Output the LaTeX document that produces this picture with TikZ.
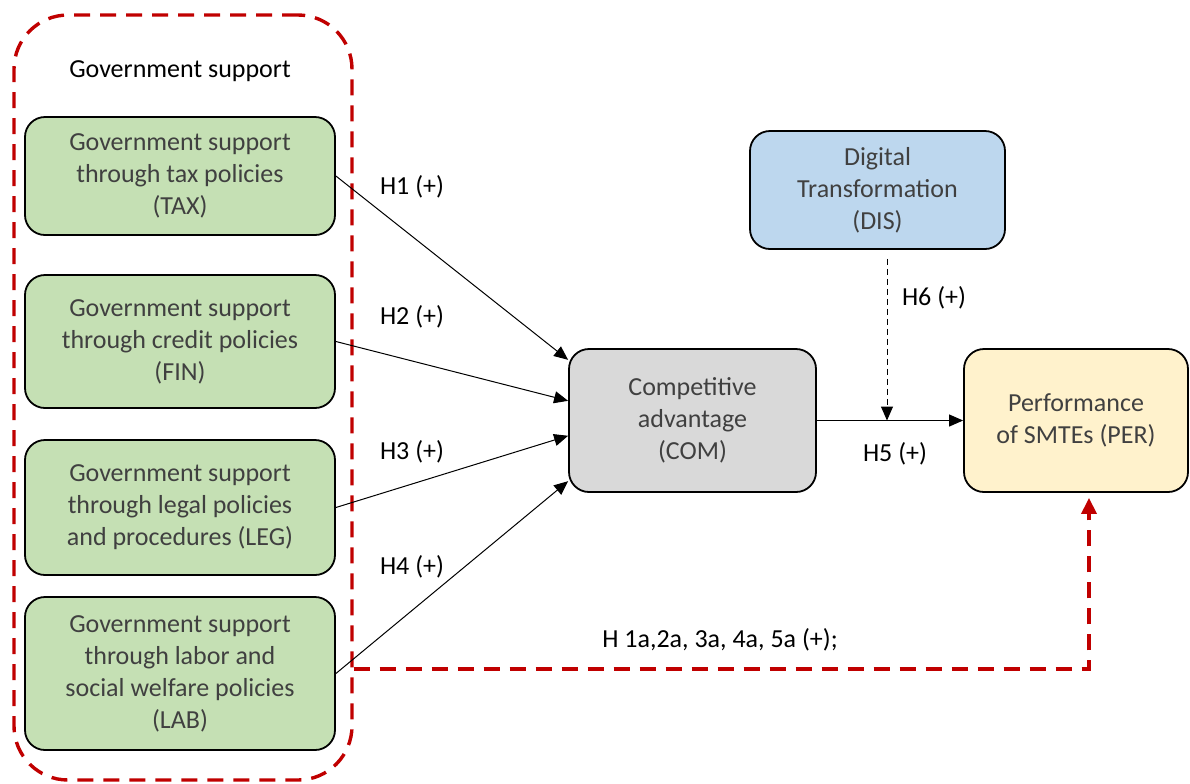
\documentclass[tikz,border=0pt]{standalone}
\usepackage{fontspec}
\setmainfont{Carlito}
\usetikzlibrary{arrows.meta, calc}

\definecolor{taxgreen}{HTML}{C5E0B4}
\definecolor{comgray}{HTML}{D9D9D9}
\definecolor{disblue}{HTML}{BDD7EE}
\definecolor{peryellow}{HTML}{FFF2CC}
\definecolor{suppred}{HTML}{C00000}

\begin{document}
\begin{tikzpicture}[
  x=0.5pt, y=-0.5pt,
  every node/.style={font=\fontsize{13}{16}\selectfont},
  construct/.style={rectangle, rounded corners=10pt, draw=black, line width=0.9pt, align=center, text=black!75, inner sep=0pt},
  policy/.style={construct, fill=taxgreen, minimum width=155pt},
  hyp/.style={text=black},
  path/.style={line width=0.5pt, -{Triangle[length=7pt, width=6pt]}},
  support/.style={draw=suppred, line width=1.7pt, dash pattern=on 8pt off 5pt}
]
\useasboundingbox (0,0) rectangle (1190,783);

% Nodes
\node[support, rectangle, rounded corners=27pt, minimum width=169pt, minimum height=382.5pt] (govt) at (183,397.5) {};
\node[hyp] (govtitle) at (180,71) {Government support};

\node[policy, minimum height=59pt] (tax) at (180,176) {Government support\\through tax policies\\(TAX)};
\node[policy, minimum height=66.5pt] (fin) at (180,341.5) {Government support\\through credit policies\\(FIN)};
\node[policy, minimum height=67.5pt] (leg) at (180,507.5) {Government support\\through legal policies\\and procedures (LEG)};
\node[policy, minimum height=76.5pt] (lab) at (180,673.5) {Government support\\through labor and\\social welfare policies\\(LAB)};

\node[construct, fill=comgray, minimum width=123.5pt, minimum height=71.5pt] (com) at (692.5,420.5) {Competitive\\advantage\\(COM)};
\node[construct, fill=disblue, minimum width=127.5pt, minimum height=59pt] (dis) at (877.5,190) {Digital\\Transformation\\(DIS)};
\node[construct, fill=peryellow, minimum width=112pt, minimum height=71.5pt] (per) at (1076,420.5) {Performance\\of SMTEs (PER)};

% Arrows
\draw[path] (tax.east) -- (com.154);
\draw[path] (fin.east) -- (com.171.5);
\draw[path] (leg.east) -- (com.187.5);
\draw[path] (lab.east) -- (com.206.5);
\draw[path] (com.east) -- (per.west);
\draw[path, dash pattern=on 3pt off 2pt] ($(dis.south)+(9.5,9)$) -- ($(dis.south |- com.east)+(9.5,0)$);
\draw[support, -{Triangle[length=8pt, width=7.5pt]}] ($(govt.east |- lab.east)+(0,-4.5)$) -| ($(per.south)+(13,5)$);

% Labels
\node[hyp] (h1) at (412,187) {H1 (+)};
\node[hyp] (h2) at (412,317) {H2 (+)};
\node[hyp] (h3) at (412,452) {H3 (+)};
\node[hyp] (h4) at (412,567) {H4 (+)};
\node[hyp] (h5) at (895,454) {H5 (+)};
\node[hyp] (h6) at (934,298) {H6 (+)};
\node[hyp] (h1a) at (720,640) {H 1a,2a, 3a, 4a, 5a (+);};

\end{tikzpicture}
\end{document}
